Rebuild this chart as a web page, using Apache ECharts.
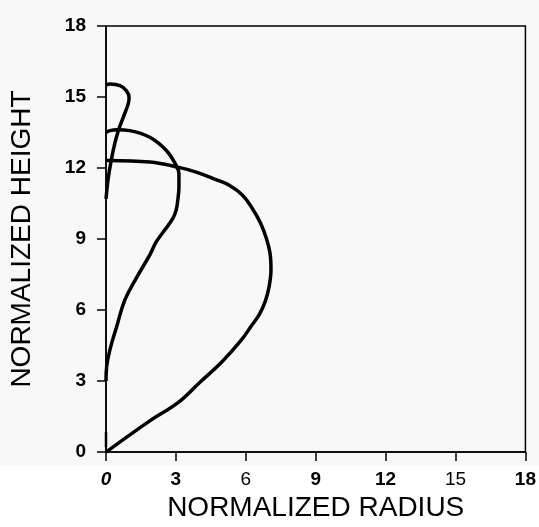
<!DOCTYPE html>
<html>
<head>
<meta charset="utf-8">
<script src="https://cdn.jsdelivr.net/npm/echarts@6/dist/echarts.min.js"></script>
<style>
  html, body { margin: 0; padding: 0; background: #f8f8f8; }
  #chart { width: 539px; height: 527px; }
</style>
</head>
<body>
<div id="chart"></div>
<script>
// tick labels
var xTicks = [0, 3, 6, 9, 12, 15, 18];
var yTicks = [0, 3, 6, 9, 12, 15, 18];

// curves, [radius, height]
var outerCurve = [
    [0, 0], [1.88, 1.32], [3.09, 2.09], [4.01, 2.93], [5.0, 3.84], [5.82, 4.75],
    [6.22, 5.31], [6.57, 5.8], [6.83, 6.36], [7.0, 6.99], [7.08, 7.7],
    [7.04, 8.4], [6.88, 9.03], [6.64, 9.66], [6.28, 10.29], [5.86, 10.85],
    [5.29, 11.27], [4.72, 11.51], [3.87, 11.83], [3.08, 12.04], [1.88, 12.25],
    [0.17, 12.32], [0, 12.32]
];
var middleCurve = [
    [0, 3.0], [0.03, 3.63], [0.17, 4.33], [0.46, 5.31], [0.81, 6.43], [1.3, 7.35],
    [1.88, 8.33], [2.16, 8.89], [2.52, 9.38], [2.87, 9.87], [3.01, 10.22],
    [3.08, 10.64], [3.13, 11.2], [3.13, 11.76], [3.01, 12.11], [2.59, 12.74],
    [1.88, 13.3], [1.02, 13.58], [0.46, 13.62], [0.17, 13.58], [0, 13.5]
];
var innerCurve = [
    [0, 10.7], [0.1, 11.6], [0.24, 12.4], [0.38, 13.05], [0.53, 13.58],
    [0.74, 14.14], [0.95, 14.7], [0.99, 14.98], [0.88, 15.26], [0.6, 15.48],
    [0.17, 15.55], [0, 15.5]
];
var originMark = [[0, 0.2], [0, 0.85]];

var chart = echarts.init(document.getElementById('chart'));

function curve(data, width) {
    return {
        type: 'line',
        data: data,
        smooth: 0.4,
        showSymbol: false,
        lineStyle: { color: '#000', width: width || 3.5 },
        silent: true
    };
}

var option = {
    backgroundColor: '#f8f8f8',
    animation: false,
    grid: {
        left: 106, right: 11, top: 26, bottom: 74,
        show: true, borderColor: '#000', borderWidth: 1.5, backgroundColor: 'transparent'
    },
    graphic: [{
        type: 'rect',
        shape: { x: 0, y: 466, width: 539, height: 61 },
        style: { fill: '#fff' },
        z: -1
    }],
    xAxis: {
        type: 'value', min: 0, max: 18, interval: 3,
        name: 'NORMALIZED RADIUS', nameLocation: 'middle', nameGap: 41,
        nameTextStyle: { fontFamily: 'Liberation Sans', fontSize: 28, color: '#000' },
        axisLine: { lineStyle: { color: '#000', width: 1.5 } },
        axisTick: { inside: false, length: 9, lineStyle: { color: '#000', width: 1.5 } },
        axisLabel: {
            margin: 18, color: '#000', fontFamily: 'Liberation Sans', fontSize: 19,
            formatter: function (v) {
                if (v === 0) return '{it|0}';
                if (v === 15 || v === 6) return '{rg|' + v + '}';
                return '{bd|' + v + '}';
            },
            rich: {
                it: { fontStyle: 'italic', fontWeight: 'bold', fontSize: 19, fontFamily: 'Liberation Sans' },
                rg: { fontSize: 19, fontFamily: 'Liberation Sans' },
                bd: { fontWeight: 'bold', fontSize: 19, fontFamily: 'Liberation Sans' }
            }
        },
        splitLine: { show: false }
    },
    yAxis: {
        type: 'value', min: 0, max: 18, interval: 3,
        name: 'NORMALIZED HEIGHT', nameLocation: 'middle', nameGap: 70,
        nameTextStyle: { fontFamily: 'Liberation Sans', fontSize: 28, color: '#000' },
        axisLine: { lineStyle: { color: '#000', width: 1.5 } },
        axisTick: { inside: false, length: 9, lineStyle: { color: '#000', width: 1.5 } },
        axisLabel: {
            margin: 20, color: '#000', fontFamily: 'Liberation Sans', fontSize: 19, fontWeight: 'bold',
            formatter: function (v) { return yTicks.indexOf(v) >= 0 ? String(v) : ''; }
        },
        splitLine: { show: false }
    },
    series: [
        curve(outerCurve),
        curve(middleCurve),
        curve(innerCurve),
        curve(originMark, 2.5)
    ]
};

chart.setOption(option);
</script>
</body>
</html>
